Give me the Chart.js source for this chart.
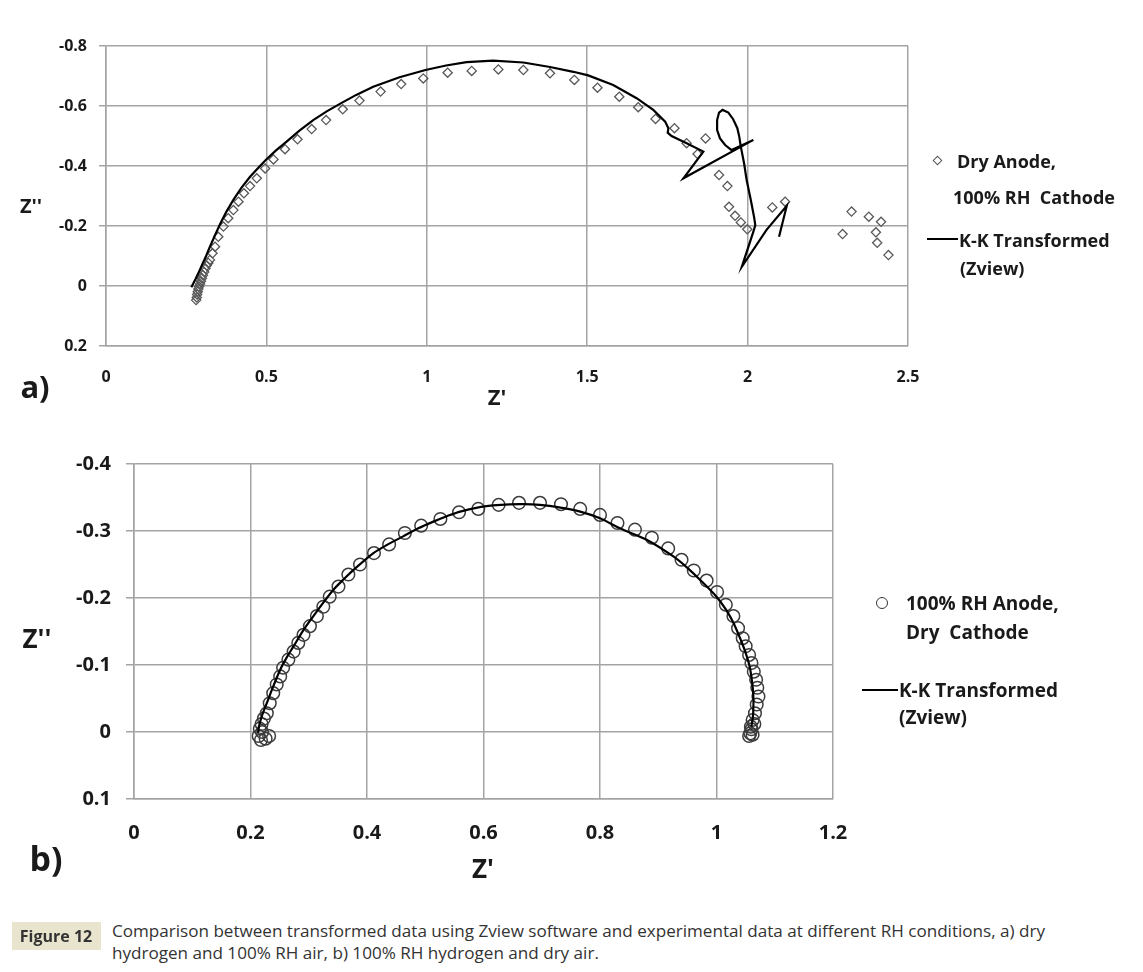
<!DOCTYPE html>
<html><head><meta charset="utf-8">
<script src="https://cdn.jsdelivr.net/npm/chart.js@4.4.1/dist/chart.umd.min.js"></script>
<style>
html,body{margin:0;padding:0;background:#fff;}
body{width:1143px;height:972px;position:relative;overflow:hidden;font-family:'Open Sans',sans-serif;color:#1a1a1a;}
canvas{position:absolute;left:0;}
.t{position:absolute;white-space:nowrap;font-weight:700;transform:translateY(-50%);line-height:1;}
.c{transform:translate(-50%,-50%);}
.cap{position:absolute;white-space:nowrap;font-size:16px;color:#333;line-height:1;transform-origin:0 50%;}
</style></head><body>
<canvas id="c1" width="1143" height="420" style="top:0"></canvas>
<canvas id="c2" width="1143" height="460" style="top:430px"></canvas>

<div class="t c" style="left:31px;top:206px;font-size:20px;">Z''</div>
<div class="t c" style="left:497px;top:396px;font-size:22px;">Z'</div>
<div class="t c" style="left:35px;top:386px;font-size:31px;">a)</div>

<div class="t c" style="left:37px;top:638px;font-size:26px;">Z''</div>
<div class="t c" style="left:483px;top:868px;font-size:26px;">Z'</div>
<div class="t c" style="left:46px;top:858px;font-size:34px;">b)</div>

<!-- legend top -->
<div style="position:absolute;left:934px;top:157px;width:5px;height:5px;border:1.3px solid #555;transform:rotate(45deg);"></div>
<div class="t" style="left:957px;top:161px;font-size:18px;">Dry Anode,</div>
<div class="t" style="left:953px;top:197px;font-size:18px;">100% RH&nbsp; Cathode</div>
<div style="position:absolute;left:927px;top:238px;width:31px;height:2px;background:#000;"></div>
<div class="t" style="left:959px;top:240px;font-size:18px;">K-K Transformed</div>
<div class="t" style="left:960px;top:268px;font-size:18px;">(Zview)</div>

<!-- legend bottom -->
<div style="position:absolute;left:876px;top:597px;width:10px;height:10px;border:1.5px solid #333;border-radius:50%;"></div>
<div class="t" style="left:906px;top:603px;font-size:19px;">100% RH Anode,</div>
<div class="t" style="left:906px;top:632px;font-size:19px;">Dry&nbsp; Cathode</div>
<div style="position:absolute;left:862px;top:689px;width:36px;height:2px;background:#000;"></div>
<div class="t" style="left:899px;top:690px;font-size:19px;">K-K Transformed</div>
<div class="t" style="left:899px;top:717px;font-size:19px;">(Zview)</div>

<!-- caption -->
<div style="position:absolute;left:12px;top:922px;width:89px;height:28px;background:#e8e4cd;"></div>
<div class="t c" style="left:56px;top:936px;font-size:16px;color:#333;">Figure 12</div>
<div id="cap1" class="cap" style="left:112px;top:922px;">Comparison between transformed data using Zview software and experimental data at different RH conditions, a) dry</div>
<div id="cap2" class="cap" style="left:112px;top:944px;">hydrogen and 100% RH air, b) 100% RH hydrogen and dry air.</div>

<script>
// ---------- Panel a) data ----------
const dryAnodeX = [0.281,0.283,0.284,0.286,0.288,0.290,0.293,0.296,0.299,0.302,0.306,0.310,0.314,0.319,
  0.324,0.332,0.340,0.350,0.366,0.381,0.397,0.413,0.430,0.449,0.470,0.496,0.522,0.558,0.597,0.641,0.686,
  0.738,0.790,0.856,0.920,0.989,1.065,1.140,1.223,1.301,1.384,1.460,1.532,1.600,1.659,1.713,1.772,1.810,
  1.869,1.844,1.911,1.937,1.942,1.961,1.979,1.999,2.077,2.117,2.296,2.324,2.378,2.416,2.400,2.404,2.439];
const dryAnodeY = [0.047,0.038,0.028,0.019,0.010,0.002,-0.007,-0.016,-0.026,-0.036,-0.047,-0.058,-0.068,-0.077,
  -0.087,-0.109,-0.131,-0.164,-0.198,-0.226,-0.253,-0.281,-0.309,-0.333,-0.359,-0.392,-0.422,-0.456,-0.489,-0.523,-0.553,
  -0.589,-0.618,-0.648,-0.673,-0.692,-0.711,-0.717,-0.722,-0.720,-0.709,-0.687,-0.661,-0.631,-0.596,-0.557,-0.526,-0.476,
  -0.492,-0.440,-0.370,-0.333,-0.264,-0.234,-0.212,-0.189,-0.262,-0.281,-0.173,-0.248,-0.231,-0.214,-0.179,-0.144,-0.103];

const kkAX = [0.266,0.272,0.280,0.290,0.300,0.312,0.324,0.338,0.355,0.375,0.397,0.422,0.449,0.475,0.498,0.530,
  0.563,0.603,0.646,0.688,0.729,0.780,0.833,0.915,0.996,1.060,1.124,1.207,1.301,1.384,1.457,1.503,1.581,1.654,
  1.706,1.743,1.753,1.751,1.763,1.810,1.862,1.800,2.018,1.950,1.930,1.914,1.905,1.905,1.911,1.922,1.940,1.955,
  1.968,1.974,1.978,1.981,1.989,1.997,2.010,2.020,2.024,2.018,1.982,2.059,2.122,2.098];
const kkAY = [0.004,-0.008,-0.025,-0.048,-0.072,-0.100,-0.131,-0.165,-0.205,-0.247,-0.287,-0.327,-0.364,-0.394,-0.420,-0.452,
  -0.481,-0.518,-0.553,-0.582,-0.607,-0.637,-0.664,-0.696,-0.720,-0.735,-0.746,-0.751,-0.745,-0.730,-0.714,-0.702,-0.670,-0.626,
  -0.587,-0.548,-0.526,-0.511,-0.500,-0.476,-0.448,-0.359,-0.487,-0.453,-0.470,-0.492,-0.520,-0.553,-0.578,-0.587,-0.578,-0.556,
  -0.526,-0.498,-0.470,-0.453,-0.409,-0.353,-0.287,-0.231,-0.203,-0.181,-0.064,-0.187,-0.267,-0.164];

const xTicksA = [0,0.5,1,1.5,2,2.5];
const yTicksA = [-0.8,-0.6,-0.4,-0.2,0,0.2];

// ---------- Panel b) data ----------
const wetAnodeX = [0.218,0.214,0.220,0.226,0.232,0.216,0.219,0.223,
  0.228,0.233,0.239,0.245,0.251,0.256,0.265,0.274,0.282,0.291,0.302,0.314,0.325,0.336,0.351,0.368,0.388,0.412,
  0.438,0.465,0.493,0.526,0.558,0.591,0.626,0.661,0.697,0.733,0.766,0.800,0.830,0.860,0.889,0.917,0.940,0.961,
  0.983,1.001,1.016,1.029,1.037,1.045,1.050,1.056,1.060,1.064,1.068,1.070,1.072,1.069,1.066,1.062,1.059,1.058,
  1.056,1.062,1.060,1.065];
const wetAnodeY = [0.012,0.006,0.000,0.010,0.006,-0.005,-0.012,-0.020,
  -0.028,-0.043,-0.058,-0.071,-0.083,-0.096,-0.108,-0.120,-0.133,-0.145,-0.158,-0.173,-0.187,-0.202,-0.217,-0.235,-0.250,-0.267,
  -0.280,-0.297,-0.308,-0.318,-0.328,-0.333,-0.339,-0.342,-0.342,-0.340,-0.333,-0.324,-0.312,-0.302,-0.290,-0.274,-0.257,-0.241,
  -0.226,-0.209,-0.190,-0.173,-0.155,-0.140,-0.128,-0.115,-0.103,-0.090,-0.078,-0.066,-0.053,-0.041,-0.028,-0.018,-0.008,0.002,
  0.006,0.004,-0.004,-0.012];

const kkBX = [0.213,0.215,0.220,0.228,0.239,0.251,0.262,0.274,0.290,0.308,0.325,0.342,0.360,0.377,0.411,0.436,0.462,
  0.488,0.514,0.537,0.560,0.605,0.663,0.697,0.732,0.766,0.800,0.834,0.880,0.926,0.950,0.972,1.000,1.016,1.029,1.046,
  1.053,1.058,1.063,1.063,1.060];
const kkBY = [0.002,-0.010,-0.025,-0.043,-0.068,-0.093,-0.111,-0.128,-0.151,-0.173,-0.193,-0.212,-0.228,-0.242,-0.267,-0.280,-0.292,
  -0.304,-0.314,-0.322,-0.329,-0.337,-0.340,-0.339,-0.335,-0.329,-0.319,-0.304,-0.287,-0.262,-0.245,-0.227,-0.202,-0.183,-0.163,-0.128,
  -0.110,-0.093,-0.058,-0.028,-0.008];

const xTicksB = [0,0.2,0.4,0.6,0.8,1,1.2];
const yTicksB = [-0.4,-0.3,-0.2,-0.1,0,0.1];

// ---------- helpers ----------
const pts = (xs, ys) => xs.map((x, i) => ({x, y: ys[i]}));
const fmt = v => String(Number(Number(v).toFixed(2)));
const GRID = '#a4a4a4';

function makeChart(id, cfg) {
  const ticksFont = {family: "'Open Sans', sans-serif", weight: 'bold', size: cfg.fontSize};
  return new Chart(document.getElementById(id), {
    type: 'scatter',
    data: {datasets: [
      {data: pts(cfg.lineX, cfg.lineY), showLine: true, borderColor: '#000', borderWidth: 2.2,
       pointRadius: 0, tension: cfg.tension, fill: false, order: 0},
      {data: pts(cfg.ptX, cfg.ptY), showLine: false, pointStyle: cfg.pointStyle, pointRadius: cfg.pointRadius,
       borderColor: cfg.pointColor, borderWidth: cfg.pointBorder, backgroundColor: 'rgba(0,0,0,0)', order: 1}
    ]},
    options: {
      responsive: false, animation: false, devicePixelRatio: 1,
      layout: {padding: cfg.padding},
      plugins: {legend: {display: false}, tooltip: {enabled: false}},
      scales: {
        x: {type: 'linear', min: cfg.xTicks[0], max: cfg.xTicks[cfg.xTicks.length - 1],
            afterBuildTicks: s => { s.ticks = cfg.xTicks.map(v => ({value: v})); },
            afterFit: s => { s.height = cfg.xAxisH; },
            ticks: {font: ticksFont, color: '#1a1a1a', padding: cfg.xPad, callback: fmt, maxRotation: 0, autoSkip: false},
            grid: {color: GRID, lineWidth: 1.5, drawTicks: false},
            border: {color: GRID, width: 1.5}},
        y: {type: 'linear', reverse: true, min: cfg.yTicks[0], max: cfg.yTicks[cfg.yTicks.length - 1],
            afterBuildTicks: s => { s.ticks = cfg.yTicks.map(v => ({value: v})); },
            afterFit: s => { s.width = cfg.yAxisW; },
            ticks: {font: ticksFont, color: '#1a1a1a', padding: cfg.yPad, callback: fmt, autoSkip: false},
            grid: {color: GRID, lineWidth: 1.5, tickLength: cfg.tickLen},
            border: {color: GRID, width: 1.5}}
      }
    }
  });
}

makeChart('c1', {
  lineX: kkAX, lineY: kkAY, ptX: dryAnodeX, ptY: dryAnodeY, xTicks: xTicksA, yTicks: yTicksA,
  tension: 0, pointStyle: 'rectRot', pointRadius: 4.6, pointColor: '#585858', pointBorder: 1.3,
  padding: {left: 0, top: 46, right: 235, bottom: 0}, xAxisH: 74, yAxisW: 106,
  fontSize: 16, xPad: 22, yPad: 12, tickLen: 7
});
makeChart('c2', {
  lineX: kkBX, lineY: kkBY, ptX: wetAnodeX, ptY: wetAnodeY, xTicks: xTicksB, yTicks: yTicksB,
  tension: 0.3, pointStyle: 'circle', pointRadius: 6.3, pointColor: '#3c3c3c', pointBorder: 1.5,
  padding: {left: 0, top: 34, right: 310, bottom: 0}, xAxisH: 91, yAxisW: 134,
  fontSize: 20, xPad: 22, yPad: 15, tickLen: 8
});

// fit caption width to reference line length
function fitCaption() {
  const c1 = document.getElementById('cap1'), c2 = document.getElementById('cap2');
  c1.style.transform = ''; 
  const w = c1.getBoundingClientRect().width;
  const s = 933 / w;
  c1.style.transform = 'translateY(-50%) scaleX(' + s + ')';
  c2.style.transform = 'translateY(-50%) scaleX(' + s + ')';
  c1.style.top = '931px'; c2.style.top = '953px';
}
fitCaption();
if (document.fonts && document.fonts.ready) document.fonts.ready.then(fitCaption);
</script>
</body></html>
